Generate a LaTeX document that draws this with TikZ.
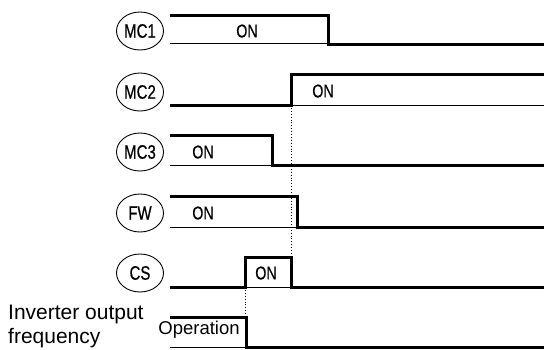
\documentclass[tikz,border=0pt]{standalone}
\usepackage{fontspec}
\setmainfont{Liberation Sans}
\newfontfamily\narrowfont[FakeStretch=0.77,FakeBold=0.6]{Liberation Sans}
\usetikzlibrary{shapes.geometric}

\begin{document}
\begin{tikzpicture}[
    x=1pt, y=-1pt,
    sig/.style={line width=3pt},
    base/.style={line width=0.9pt},
    guide/.style={line width=0.9pt, dotted},
    tag/.style={ellipse, draw, line width=0.9pt, minimum width=47pt, minimum height=38pt, inner sep=0pt, font=\narrowfont\fontsize{19.5}{19.5}\selectfont},
    onlbl/.style={inner sep=0pt, font=\narrowfont\fontsize{18.5}{18.5}\selectfont}
]
    \useasboundingbox (0,0) rectangle (544,349);

    % signal names
    \node[tag] (mc1) at (140,31) {MC1};
    \node[tag] (mc2) at (140,92) {MC2};
    \node[tag] (mc3) at (140,152) {MC3};
    \node[tag] (fw) at (140,213) {FW};
    \node[tag] (cs) at (140,273) {CS};
    \node[anchor=base west, align=left, inner sep=0pt, font=\fontsize{21}{24}\selectfont] (freq) at (8,343) {Inverter output\\frequency};

    % thin baselines
    \foreach \y in {43,105,165,227,287,347}
        \draw[base] (170,\y) -- (544,\y);

    % waveforms
    \draw[sig] (170,15) -- (328,15) -- (328,44) -- (544,44);
    \draw[sig] (170,105) -- (291,105) -- (291,74) -- (544,74);
    \draw[sig] (170,135) -- (272,135) -- (272,165) -- (544,165);
    \draw[sig] (170,196) -- (297,196) -- (297,227) -- (544,227);
    \draw[sig] (170,287) -- (245,287) -- (245,257) -- (291,257) -- (291,287) -- (544,287);
    \draw[sig] (170,317) -- (246,317) -- (246,347) -- (544,347);

    % state labels
    \node[onlbl] (on1) at (247,31) {ON};
    \node[onlbl] (on2) at (323,91) {ON};
    \node[onlbl] (on3) at (203,152) {ON};
    \node[onlbl] (on4) at (203,213) {ON};
    \node[onlbl] (on5) at (266,273) {ON};
    \node[anchor=base, inner sep=0pt, font=\fontsize{18.5}{18.5}\selectfont] (oper) at (199,334) {Operation};

    % timing guides
    \coordinate (mc2on) at (291,105);
    \coordinate (csoff) at (291,257);
    \coordinate (cson) at (245,287);
    \coordinate (invoff) at (245,317);
    \draw[guide] (mc2on) -- (csoff);
    \draw[guide] (cson) -- (invoff);
\end{tikzpicture}
\end{document}
